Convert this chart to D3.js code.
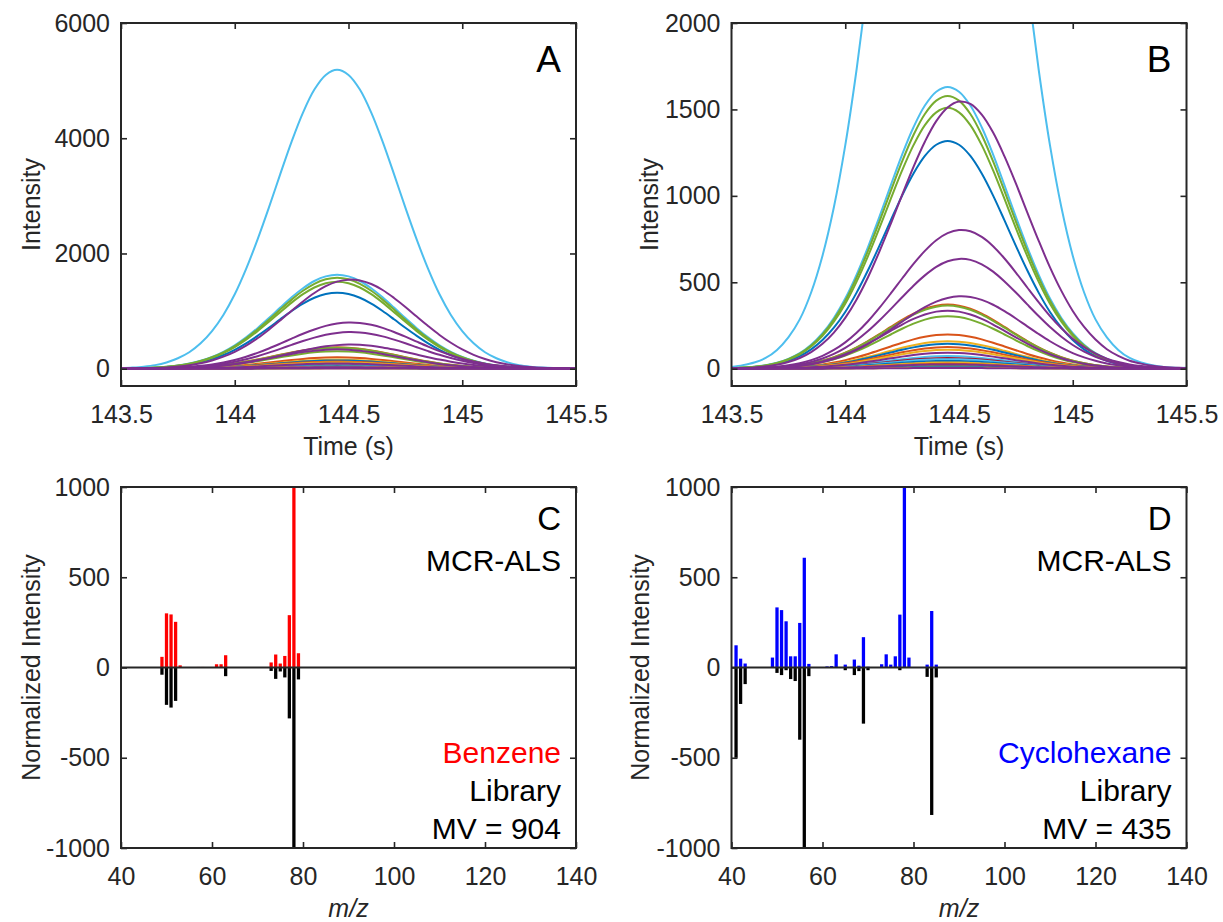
<!DOCTYPE html>
<html>
<head>
<meta charset="utf-8">
<script src="https://cdn.jsdelivr.net/npm/d3@7"></script>
<style>
  html, body { margin: 0; padding: 0; background: #fff; }
  svg { display: block; font-family: "Liberation Sans", Arial, Helvetica, sans-serif; }
</style>
</head>
<body>
<svg id="fig" width="1223" height="922"></svg>
<script>
// ---------- Extracted ion chromatograms (panels A, B) ----------
// retention-time grid, seconds
const timeGrid = [143.50, 143.55, 143.60, 143.65, 143.70, 143.75, 143.80, 143.85, 143.90, 143.95,
                  144.00, 144.05, 144.10, 144.15, 144.20, 144.25, 144.30, 144.35, 144.40, 144.45,
                  144.50, 144.55, 144.60, 144.65, 144.70, 144.75, 144.80, 144.85, 144.90, 144.95,
                  145.00, 145.05, 145.10, 145.15, 145.20, 145.25, 145.30, 145.35, 145.40, 145.45,
                  145.50];

// normalised elution profile of the early-eluting component (apex 144.45 s)
const profileEarly = [0.002, 0.004, 0.007, 0.012, 0.021, 0.035, 0.055, 0.085, 0.126, 0.180,
                      0.249, 0.334, 0.432, 0.539, 0.651, 0.760, 0.857, 0.934, 0.983, 1.000,
                      0.983, 0.934, 0.857, 0.760, 0.651, 0.539, 0.432, 0.334, 0.249, 0.180,
                      0.126, 0.085, 0.055, 0.035, 0.021, 0.012, 0.007, 0.004, 0.002, 0.001,
                      0.001];

// normalised elution profile of the later component (apex ~144.51 s)
const profileLate = [0.002, 0.003, 0.005, 0.009, 0.015, 0.025, 0.040, 0.062, 0.093, 0.135,
                     0.190, 0.259, 0.342, 0.438, 0.542, 0.650, 0.755, 0.849, 0.926, 0.977,
                     0.999, 0.990, 0.950, 0.883, 0.794, 0.693, 0.585, 0.479, 0.379, 0.291,
                     0.216, 0.156, 0.109, 0.073, 0.048, 0.030, 0.019, 0.011, 0.006, 0.004,
                     0.002];

// apex intensity of each ion trace, in drawing order
const ionApex = [5187, 1630, 1318, 1578, 1509, 371, 365, 304, 198, 159,
                 144, 125, 110, 73, 62, 55, 45, 36, 28, 22,
                 16, 11, 6, 1547, 803, 636, 419, 336, 92, 25,
                 4];
// line colour of each trace
const ionColor = ["#4DBEEE", "#4DBEEE", "#0072BD", "#77AC30", "#77AC30", "#D95319", "#77AC30", "#77AC30", "#D95319", "#EDB120",
                  "#0072BD", "#D95319", "#EDB120", "#4DBEEE", "#A2142F", "#4DBEEE", "#0072BD", "#EDB120", "#D95319", "#4DBEEE",
                  "#77AC30", "#0072BD", "#EDB120", "#7E2F8E", "#7E2F8E", "#7E2F8E", "#7E2F8E", "#7E2F8E", "#7E2F8E", "#7E2F8E",
                  "#7E2F8E"];
// which elution profile each trace follows (0 = early, 1 = late)
const ionProfile = [0, 0, 0, 0, 0, 0, 0, 0, 0, 0,
                    0, 0, 0, 0, 0, 0, 0, 0, 0, 0,
                    0, 0, 0, 1, 1, 1, 1, 0, 0, 0,
                    0];

const timeTicks = [143.5, 144, 144.5, 145, 145.5];
const intensityTicksA = [0, 2000, 4000, 6000];
const intensityTicksB = [0, 500, 1000, 1500, 2000];

// ---------- Mass spectra (panels C, D) ----------
const benzeneMz   = [49, 50, 51, 52, 53, 57, 58, 61, 62, 63, 73, 74, 75, 76, 77, 78, 79, 82, 86];
const benzeneMcr  = [59, 300, 294, 253, 12, 3, 3, 18, 18, 68, 28, 72, 22, 64, 290, 1000, 79, 2, 2];
const benzeneLibMz  = [49, 50, 51, 52, 63, 73, 74, 75, 76, 77, 78, 79];
const benzeneLib    = [-40, -207, -222, -185, -48, -19, -63, -22, -55, -282, -1000, -66];

const cyclohexMz  = [41, 42, 43, 49, 50, 51, 52, 53, 54, 55, 56, 57, 61, 62, 63, 65, 67, 68, 69, 70,
                     73, 74, 75, 76, 77, 78, 79, 83, 84, 85];
const cyclohexMcr = [123, 49, 22, 55, 333, 318, 256, 62, 62, 247, 608, 20, 6, 8, 73, 16, 44, 10, 168, 4,
                     18, 73, 16, 62, 293, 1000, 55, 16, 313, 16];
const cyclohexLibMz = [41, 42, 43, 50, 51, 52, 53, 54, 55, 56, 57, 65, 67, 68, 69, 70, 77, 83, 84, 85];
const cyclohexLib   = [-500, -202, -92, -30, -42, -15, -64, -75, -400, -1000, -48, -15, -42, -20, -311, -15, -15, -52, -817, -55];

const mzTicks = [40, 60, 80, 100, 120, 140];
const normTicks = [-1000, -500, 0, 500, 1000];

// ---------- layout ----------
const svg = d3.select("#fig");
const INK = "#262626";
const TICK_FONT = 25;
const plain = d => String(d);   // 6000, 144, 144.5, -1000 (no grouping, no padding)

const panels = {
  A: { left: 121,   top: 23,  width: 455, height: 363 },
  B: { left: 731.5, top: 23,  width: 455, height: 363 },
  C: { left: 121,   top: 487, width: 455, height: 361 },
  D: { left: 731.5, top: 487, width: 455, height: 361 }
};

function styleAxis(g, showText) {
  g.select(".domain").remove();
  g.selectAll(".tick line").attr("stroke", INK).attr("stroke-width", 1.6);
  g.selectAll(".tick text")
    .attr("fill", INK)
    .attr("font-size", TICK_FONT)
    .attr("font-family", "'Liberation Sans', Arial, Helvetica, sans-serif");
  if (!showText) g.selectAll(".tick text").remove();
}

// axes box with inward ticks on all four sides
function drawFrame(p, x, y, xTicks, yTicks) {
  const g = svg.append("g");
  const bottom = p.top + p.height, right = p.left + p.width;
  g.append("g").attr("transform", `translate(0,${bottom})`)
    .call(d3.axisBottom(x).tickValues(xTicks).tickFormat(plain).tickSizeInner(-6).tickSizeOuter(0).tickPadding(19))
    .call(a => styleAxis(a, true));
  g.append("g").attr("transform", `translate(0,${p.top})`)
    .call(d3.axisTop(x).tickValues(xTicks).tickSizeInner(-6).tickSizeOuter(0))
    .call(a => styleAxis(a, false));
  g.append("g").attr("transform", `translate(${p.left},0)`)
    .call(d3.axisLeft(y).tickValues(yTicks).tickFormat(plain).tickSizeInner(-6).tickSizeOuter(0).tickPadding(11))
    .call(a => styleAxis(a, true));
  g.append("g").attr("transform", `translate(${right},0)`)
    .call(d3.axisRight(y).tickValues(yTicks).tickSizeInner(-6).tickSizeOuter(0))
    .call(a => styleAxis(a, false));
  g.append("rect")
    .attr("x", p.left).attr("y", p.top)
    .attr("width", p.width).attr("height", p.height)
    .attr("fill", "none").attr("stroke", INK).attr("stroke-width", 2);
}

function yTitle(p, text, offset) {
  svg.append("text")
    .attr("transform", `translate(${p.left - offset},${p.top + p.height / 2}) rotate(-90)`)
    .attr("text-anchor", "middle")
    .attr("font-size", 25)
    .attr("fill", INK)
    .text(text);
}

function xTitle(p, text, italic) {
  svg.append("text")
    .attr("x", p.left + p.width / 2)
    .attr("y", p.top + p.height + 69)
    .attr("text-anchor", "middle")
    .attr("font-size", 25)
    .attr("font-style", italic ? "italic" : "normal")
    .attr("fill", INK)
    .text(text);
}

function cornerText(p, text, dy, size, color) {
  svg.append("text")
    .attr("x", p.left + p.width - 15)
    .attr("y", p.top + dy)
    .attr("text-anchor", "end")
    .attr("font-size", size)
    .attr("fill", color)
    .text(text);
}

// ---------- chromatogram panels ----------
const traces = ionApex.map((apex, i) => {
  const prof = ionProfile[i] === 0 ? profileEarly : profileLate;
  return { color: ionColor[i], pts: timeGrid.map((t, k) => ({ t, v: apex * prof[k] })) };
});

function chromPanel(key, yDomain, yTicks) {
  const p = panels[key];
  const x = d3.scaleLinear().domain([143.5, 145.5]).range([p.left, p.left + p.width]);
  const y = d3.scaleLinear().domain(yDomain).range([p.top + p.height, p.top]);
  const clipId = "clip" + key;
  svg.append("clipPath").attr("id", clipId)
    .append("rect").attr("x", p.left).attr("y", p.top).attr("width", p.width).attr("height", p.height);
  const line = d3.line().x(d => x(d.t)).y(d => y(d.v)).curve(d3.curveCatmullRom.alpha(0.5));
  svg.append("g").attr("clip-path", `url(#${clipId})`)
    .selectAll("path").data(traces).join("path")
    .attr("d", d => line(d.pts))
    .attr("fill", "none")
    .attr("stroke", d => d.color)
    .attr("stroke-width", 2)
    .attr("stroke-linejoin", "round");
  drawFrame(p, x, y, timeTicks, yTicks);
  yTitle(p, "Intensity", key === "A" ? 81 : 74);
  xTitle(p, "Time (s)", false);
  cornerText(p, key, 49, 37, "#000");
}

chromPanel("A", [-300, 6000], intensityTicksA);
chromPanel("B", [-100, 2000], intensityTicksB);

// ---------- spectrum panels ----------
function spectrumPanel(key, mzPos, valPos, mzNeg, valNeg, color, name, mv) {
  const p = panels[key];
  const x = d3.scaleLinear().domain([40, 140]).range([p.left, p.left + p.width]);
  const y = d3.scaleLinear().domain([-1000, 1000]).range([p.top + p.height, p.top]);
  const bw = 0.72;
  const bars = svg.append("g");
  bars.selectAll("rect.mcr").data(mzPos.map((m, i) => ({ m, v: valPos[i] }))).join("rect")
    .attr("class", "mcr")
    .attr("x", d => x(d.m - bw / 2)).attr("width", x(40 + bw) - x(40))
    .attr("y", d => y(d.v)).attr("height", d => y(0) - y(d.v))
    .attr("fill", color);
  bars.selectAll("rect.lib").data(mzNeg.map((m, i) => ({ m, v: valNeg[i] }))).join("rect")
    .attr("class", "lib")
    .attr("x", d => x(d.m - bw / 2)).attr("width", x(40 + bw) - x(40))
    .attr("y", y(0)).attr("height", d => y(d.v) - y(0))
    .attr("fill", "#000");
  svg.append("line")
    .attr("x1", p.left).attr("x2", p.left + p.width)
    .attr("y1", y(0)).attr("y2", y(0))
    .attr("stroke", INK).attr("stroke-width", 1.8);
  drawFrame(p, x, y, mzTicks, normTicks);
  yTitle(p, "Normalized Intensity", key === "C" ? 81 : 83);
  xTitle(p, "m/z", true);
  cornerText(p, key, 43, 33, "#000");
  cornerText(p, "MCR-ALS", 84, 30, "#000");
  cornerText(p, name, 276, 30, color);
  cornerText(p, "Library", 314, 30, "#000");
  cornerText(p, "MV = " + mv, 352, 30, "#000");
}

spectrumPanel("C", benzeneMz, benzeneMcr, benzeneLibMz, benzeneLib, "#FF0000", "Benzene", 904);
spectrumPanel("D", cyclohexMz, cyclohexMcr, cyclohexLibMz, cyclohexLib, "#0000FF", "Cyclohexane", 435);
</script>
</body>
</html>
